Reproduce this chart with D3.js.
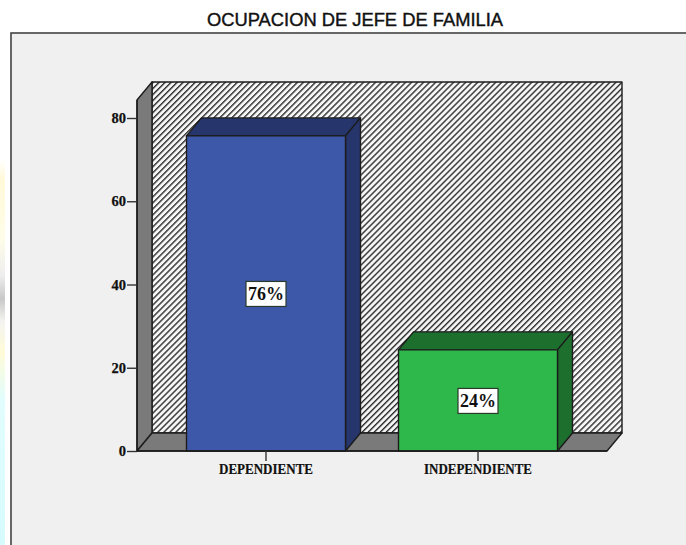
<!DOCTYPE html>
<html><head><meta charset="utf-8">
<script src="https://cdn.jsdelivr.net/npm/d3@7/dist/d3.min.js"></script>
<style>html,body{margin:0;padding:0;background:#fff;overflow:hidden}svg{display:block}</style>
</head><body><div id="c"></div>
<script>
const titleText = "OCUPACION DE JEFE DE FAMILIA";
const categories = ["DEPENDIENTE", "INDEPENDIENTE"];
const values = [75.7, 24.3];
const valueLabels = ["76%", "24%"];
const yTicks = [0, 20, 40, 60, 80];
const frontColors = ["#3d58a8", "#2eb84c"];
const sideColors = ["#26356b", "#1d6f2e"];

const W = 686, H = 545, dx = 15, dy = 18;
const x = d3.scaleBand().domain(categories).range([137, 607]).paddingInner(0.25).paddingOuter(0.2335);
const y = d3.scaleLinear().domain([0, 80]).range([451, 118]);
const y0 = y(0), yTop = 100;
const line = "#1c1c1c";

const svg = d3.select("#c").append("svg").attr("width", W).attr("height", H);
const defs = svg.append("defs");
const pat = defs.append("pattern").attr("id", "hatch").attr("patternUnits", "userSpaceOnUse")
  .attr("width", 4.25).attr("height", 4.25).attr("patternTransform", "rotate(-45)");
pat.append("rect").attr("width", 4.25).attr("height", 4.25).attr("fill", "#f6f6f6");
pat.append("rect").attr("width", 4.25).attr("height", 1.4).attr("fill", "#2e2e2e");
const strip = defs.append("linearGradient").attr("id", "strip").attr("x1", 0).attr("x2", 0).attr("y1", 0).attr("y2", 1);
[[0, "#ffffff"], [0.05, "#fff9d8"], [0.2, "#fffde8"], [0.3, "#eeeeee"], [0.36, "#c8c8c8"], [0.42, "#f4f4f0"], [0.5, "#fffbd8"], [0.62, "#e2fdfd"], [1, "#d6fbfd"]]
  .forEach(s => strip.append("stop").attr("offset", s[0]).attr("stop-color", s[1]));

svg.append("rect").attr("x", 0).attr("y", 160).attr("width", 5).attr("height", 385).attr("fill", "url(#strip)");
svg.append("rect").attr("x", 11).attr("y", 33).attr("width", W).attr("height", H).attr("fill", "#f0f0f0").attr("stroke", "#444").attr("stroke-width", 1.6);

svg.append("text").attr("x", 355).attr("y", 26).attr("text-anchor", "middle")
  .attr("font-family", "Liberation Sans").attr("font-size", 18).attr("textLength", 296).attr("lengthAdjust", "spacingAndGlyphs")
  .attr("fill", "#111").attr("stroke", "#111").attr("stroke-width", 0.4).text(titleText);

const poly = (pts, fill, sw = 1.4) => svg.append("polygon").attr("points", pts.map(p => p.join(",")).join(" "))
  .attr("fill", fill).attr("stroke", line).attr("stroke-width", sw).attr("stroke-linejoin", "round");

const xL = x.range()[0], xR = x.range()[1];
poly([[xL + dx, yTop - dy], [xR + dx, yTop - dy], [xR + dx, y0 - dy], [xL + dx, y0 - dy]], "url(#hatch)");
poly([[xL, yTop], [xL + dx, yTop - dy], [xL + dx, y0 - dy], [xL, y0]], "#7a7a7a");
poly([[xL, y0], [xL + dx, y0 - dy], [xR + dx, y0 - dy], [xR, y0]], "#7a7a7a");

categories.forEach((c, i) => {
  const l = x(c), r = l + x.bandwidth(), t = y(values[i]);
  poly([[l, t], [l + dx, t - dy], [r + dx, t - dy], [r, t]], sideColors[i]);
  poly([[r, t], [r + dx, t - dy], [r + dx, y0 - dy], [r, y0]], sideColors[i]);
  poly([[l, t], [r, t], [r, y0], [l, y0]], frontColors[i]);
});

const serif = "Liberation Serif";
const yAxis = svg.append("g").attr("transform", `translate(${xL},0)`).call(d3.axisLeft(y).tickValues(yTicks).tickSize(10).tickPadding(1).tickSizeOuter(0));
yAxis.select(".domain").attr("stroke", line).attr("stroke-width", 1.4).attr("d", `M0,${y0}V${yTop}`);
yAxis.selectAll(".tick line").attr("stroke", "#333").attr("stroke-width", 1.4);
yAxis.selectAll("text").attr("font-family", serif).attr("font-weight", "bold").attr("font-size", 14.5).attr("fill", "#111").attr("stroke", "#111").attr("stroke-width", 0.25);

const xAxis = svg.append("g").attr("transform", `translate(0,${y0})`).call(d3.axisBottom(x).tickSize(10).tickPadding(3).tickSizeOuter(0));
xAxis.select(".domain").attr("stroke", line).attr("stroke-width", 1.4).attr("d", `M${xL},0H${xR}`);
xAxis.selectAll(".tick line").attr("stroke", "#333").attr("stroke-width", 1.4);
xAxis.selectAll("text").attr("font-family", serif).attr("font-weight", "bold").attr("font-size", 14).attr("fill", "#111").attr("stroke", "#111").attr("stroke-width", 0.2)
  .attr("textLength", d => d === categories[0] ? 94 : 108).attr("lengthAdjust", "spacingAndGlyphs");

categories.forEach((c, i) => {
  const cx = x(c) + x.bandwidth() / 2, cy = (y(values[i]) + y0) / 2;
  svg.append("rect").attr("x", cx - 20).attr("y", cy - 12).attr("width", 40).attr("height", 25)
    .attr("fill", "#fff").attr("stroke", "#2a3a2a").attr("stroke-width", 1.2);
  svg.append("text").attr("x", cx).attr("y", cy + 6.5).attr("text-anchor", "middle")
    .attr("font-family", serif).attr("font-weight", "bold").attr("font-size", 18).attr("fill", "#111").text(valueLabels[i]);
});
</script></body></html>
